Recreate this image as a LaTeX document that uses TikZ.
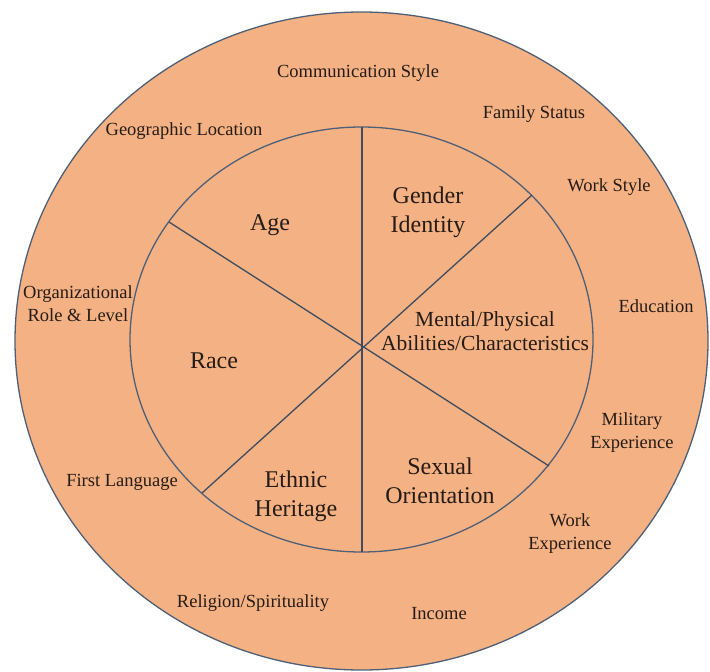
\documentclass[tikz,border=0pt]{standalone}
\usepackage{fontspec}
\setmainfont{Liberation Serif}
\definecolor{wheelfill}{RGB}{244,177,131}
\definecolor{wheeledge}{RGB}{78,96,120}
\definecolor{wheeltext}{RGB}{38,28,22}
\tikzset{
  ring/.style={draw=wheeledge, line width=1.3bp, fill=wheelfill},
  spoke/.style={draw=wheeledge!80!black, line width=1.3bp},
  outerlbl/.style={text=wheeltext, align=center, inner sep=0pt,
    font=\fontsize{18.5bp}{23bp}\selectfont},
  innerlbl/.style={text=wheeltext, align=center, inner sep=0pt,
    font=\fontsize{24bp}{29bp}\selectfont},
  midlbl/.style={text=wheeltext, align=center, inner sep=0pt,
    font=\fontsize{21.5bp}{24bp}\selectfont},
}
\begin{document}
\begin{tikzpicture}[x=1bp,y=-1bp]
\useasboundingbox (0,0) rectangle (710,672);
% rings
\path[ring] (361.5,341) ellipse [x radius=346.5, y radius=329];
\path[ring] (361.5,339.5) ellipse [x radius=231.5, y radius=212.5];
% spokes
\coordinate (c) at (362,348);
\coordinate (top) at (362,127);
\coordinate (bot) at (362,552);
\coordinate (nw) at (169,222);
\coordinate (se) at (549,466);
\coordinate (ne) at (532,195);
\coordinate (sw) at (202,493);
\draw[spoke] (top) -- (bot);
\draw[spoke] (nw) -- (se);
\draw[spoke] (ne) -- (sw);
% inner labels
\node[innerlbl] (age) at (270,225) {Age};
\node[innerlbl] (gender) at (428,212.5) {Gender\\Identity};
\node[innerlbl] (race) at (214,361) {Race};
\node[midlbl] (mental) at (485,331) {Mental/Physical\\Abilities/Characteristics};
\node[innerlbl] (ethnic) at (296,496.5) {Ethnic\\Heritage};
\node[innerlbl] (sexual) at (440,480.5) {Sexual\\Orientation};
% outer labels
\node[outerlbl] (comm) at (358,73) {Communication Style};
\node[outerlbl] (family) at (534,114) {Family Status};
\node[outerlbl] (geo) at (184,131) {Geographic Location};
\node[outerlbl] (workstyle) at (609,187) {Work Style};
\node[outerlbl] (edu) at (656,306) {Education};
\node[outerlbl] (org) at (78,304) {Organizational\\Role \& Level};
\node[outerlbl] (mil) at (632,432.5) {Military\\Experience};
\node[outerlbl] (lang) at (122,482) {First Language};
\node[outerlbl] (workexp) at (570,534) {Work\\Experience};
\node[outerlbl] (rel) at (253,603) {Religion/Spirituality};
\node[outerlbl] (inc) at (439,614) {Income};
\end{tikzpicture}
\end{document}
